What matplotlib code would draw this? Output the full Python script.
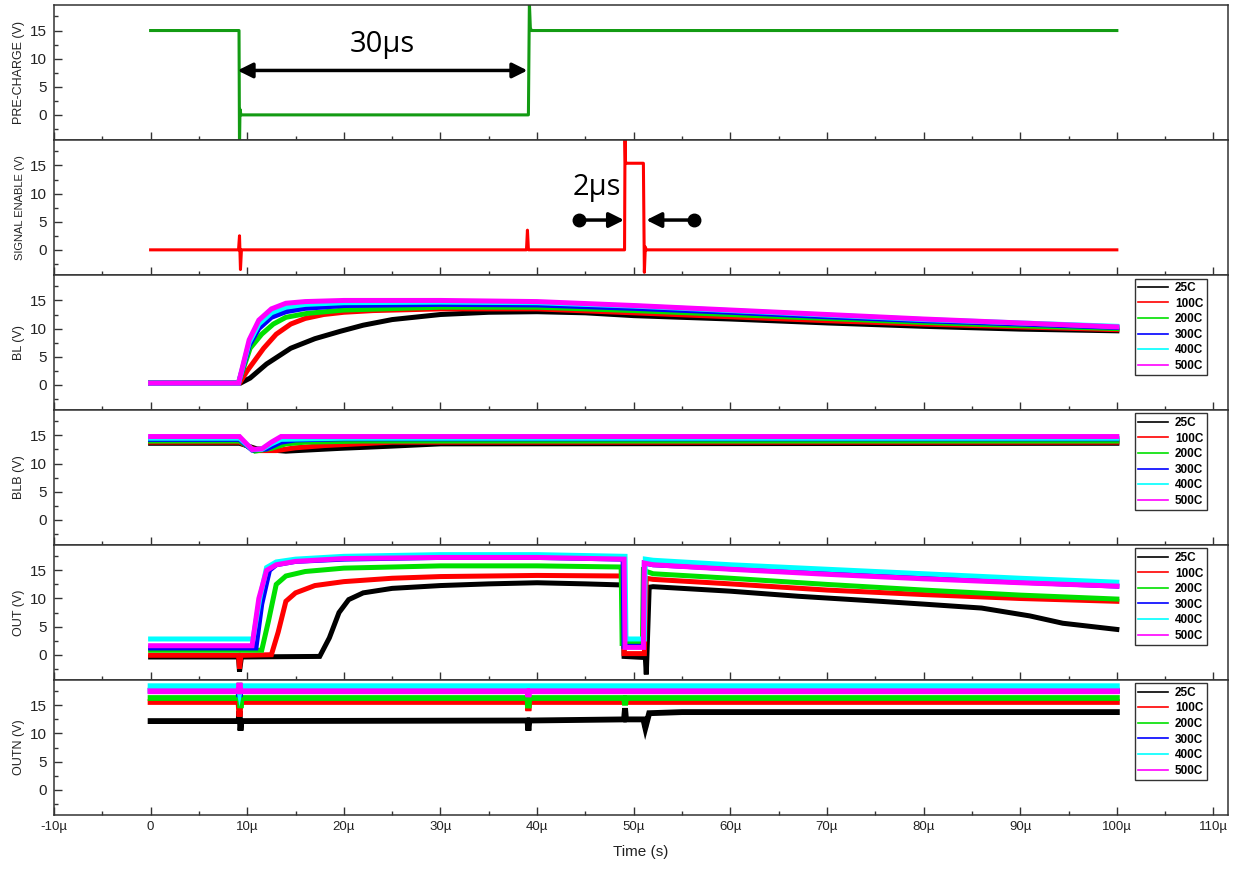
import matplotlib
matplotlib.use("Agg")
import matplotlib.pyplot as plt
from matplotlib.lines import Line2D
from matplotlib.ticker import MultipleLocator, FuncFormatter

plt.rcParams['font.family'] = ['Liberation Sans', 'DejaVu Sans']

# ---- data (time in microseconds, voltage in V) ----
temps = ['25C', '100C', '200C', '300C', '400C', '500C']
temp_colors = ['#000000', '#ff0000', '#00e000', '#0000ff', '#00ffff', '#ff00ff']

pc_t = [0, 9.15, 9.2, 9.25, 9.35, 39.1, 39.2, 39.3, 39.4, 100]
pc_v = [15, 15, -6, 1, 0, 0, 20, 15.5, 15, 15]

se_t = [0, 9.1, 9.2, 9.3, 9.4, 38.9, 39.0, 39.1, 49.05, 49.1, 49.15, 49.3,
        51.0, 51.1, 51.2, 51.3, 100]
se_v = [0, 0, 2.5, -3.5, 0, 0, 3.5, 0, 0, 20, 15.6, 15.4,
        15.4, -4.0, 0.5, 0, 0]

# BL
bl_t = {
    '25C': [0, 9.3, 10.3, 12, 14.5, 17, 19.6, 22, 25, 30, 35, 40, 45, 50, 60, 70, 80, 90, 100],
    '100C': [0, 9.2, 10, 11.7, 13, 14.5, 16, 17.9, 20, 23, 30, 40, 50, 60, 70, 80, 90, 100],
    '200C': [0, 9.1, 10.3, 11.5, 12.7, 14, 16.2, 20, 30, 40, 50, 60, 70, 80, 90, 100],
    '300C': [0, 9.1, 10.2, 11.2, 12.5, 14, 16, 20, 30, 40, 50, 60, 70, 80, 90, 100],
    '400C': [0, 9.1, 10.2, 11.2, 12.5, 14, 16, 20, 30, 40, 50, 60, 70, 80, 90, 100],
    '500C': [0, 9.1, 10.2, 11.2, 12.5, 14, 16, 20, 30, 40, 50, 60, 70, 80, 90, 100],
}
bl_v = {
    '25C': [0.3, 0.3, 1.2, 3.7, 6.5, 8.2, 9.5, 10.6, 11.6, 12.5, 12.9, 13.0, 12.8, 12.3, 11.7, 11.0, 10.4, 9.9, 9.6],
    '100C': [0.3, 0.3, 2.5, 6.5, 9, 10.8, 11.8, 12.5, 12.9, 13.2, 13.5, 13.5, 12.8, 12.1, 11.4, 10.8, 10.3, 9.8],
    '200C': [0.3, 0.3, 6.5, 9, 10.8, 12, 12.7, 13.3, 13.8, 13.8, 13.2, 12.5, 11.8, 11.1, 10.5, 10.0],
    '300C': [0.3, 0.3, 7, 10, 12, 13, 13.6, 14.1, 14.3, 14.2, 13.6, 12.9, 12.1, 11.4, 10.8, 10.2],
    '400C': [0.3, 0.3, 7.5, 10.8, 12.8, 13.8, 14.3, 14.6, 14.7, 14.6, 14.0, 13.2, 12.4, 11.6, 11.0, 10.4],
    '500C': [0.3, 0.3, 8, 11.5, 13.5, 14.5, 14.8, 15, 15, 14.8, 14.1, 13.3, 12.5, 11.7, 11.0, 10.3],
}

# BLB
blb_t = {
    '25C': [0, 9.2, 11, 14, 19.6, 25, 30, 100],
    '100C': [0, 9.2, 11, 13, 15, 18, 25, 100],
    '200C': [0, 9.2, 10.8, 12.5, 14, 16, 22, 100],
    '300C': [0, 9.2, 10.5, 12, 13.5, 15, 20, 100],
    '400C': [0, 9.2, 10.5, 11.5, 12.5, 13.5, 20, 100],
    '500C': [0, 9.2, 10.5, 11.5, 12.5, 13.5, 20, 100],
}
blb_v = {
    '25C': [13.6, 13.6, 12.6, 12.2, 12.7, 13.1, 13.5, 13.6],
    '100C': [13.8, 13.8, 12.3, 12.3, 12.8, 13.2, 13.8, 13.8],
    '200C': [14.0, 14.0, 12.2, 12.7, 13.5, 13.8, 14.0, 14.0],
    '300C': [14.3, 14.3, 12.4, 12.6, 13.8, 14.2, 14.4, 14.4],
    '400C': [14.5, 14.5, 12.5, 12.5, 13.5, 14.3, 14.5, 14.5],
    '500C': [14.8, 14.8, 12.5, 12.6, 13.8, 14.8, 14.8, 14.8],
}

# OUT
out_t = {
    '25C': [0, 9.1, 9.2, 9.4, 17.5, 18.5, 19.5, 20.5, 22, 25, 30, 35, 40, 45, 48.9, 49.0,
            51.2, 51.3, 51.6, 52, 60, 67, 75.5, 80, 86, 91, 94.4, 100],
    '100C': [0, 9.1, 9.2, 9.35, 12.5, 13.2, 14, 15, 17, 20, 25, 30, 40, 48.9, 49.0,
             51.1, 51.3, 52, 60, 70, 80, 90, 100],
    '200C': [0, 11.5, 12.2, 13, 14, 16, 20, 30, 40, 48.7, 48.8, 50.9, 51.0, 52, 60, 70, 80, 90, 100],
    '300C': [0, 10.9, 11.5, 12.3, 13, 15, 20, 30, 40, 48.9, 49.0, 51.0, 51.1, 52, 60, 70, 80, 90, 100],
    '400C': [0, 10.6, 11.3, 12, 13, 15, 20, 30, 40, 49.1, 49.2, 51.1, 51.2, 52, 60, 70, 80, 90, 100],
    '500C': [0, 10.5, 11.2, 12, 13, 15, 20, 30, 40, 49.0, 49.1, 51.0, 51.1, 52, 60, 70, 80, 90, 100],
}
out_v = {
    '25C': [-0.4, -0.4, -3, -0.4, -0.3, 3, 7.5, 9.8, 11, 11.8, 12.3, 12.6, 12.8, 12.6, 12.4, -0.3,
            -0.5, -3.5, 12, 12.1, 11.3, 10.4, 9.5, 9.0, 8.3, 6.9, 5.6, 4.5],
    '100C': [-0.1, -0.1, -2.5, -0.1, 0, 4, 9.5, 11, 12.3, 13, 13.6, 13.9, 14.1, 14, 0.2,
             0.2, 13.6, 13.4, 12.6, 11.5, 10.7, 10.0, 9.5],
    '200C': [0.8, 0.8, 6, 12.5, 14, 14.8, 15.4, 15.8, 15.8, 15.6, 2, 2, 15, 14.4, 13.6, 12.5, 11.5, 10.6, 9.9],
    '300C': [1.2, 1.2, 9, 15, 16, 16.6, 17, 17.3, 17.3, 17, 1.5, 1.5, 16.3, 16, 15.3, 14.5, 13.7, 12.9, 12.2],
    '400C': [2.8, 2.8, 10, 15.5, 16.5, 17, 17.5, 17.8, 17.8, 17.5, 2.8, 2.8, 17, 16.8, 16, 15.2, 14.4, 13.6, 12.9],
    '500C': [1.6, 1.6, 10, 15, 16, 16.6, 17.1, 17.3, 17.3, 17, 1.3, 1.3, 16.3, 16, 15.2, 14.3, 13.5, 12.8, 12.2],
}

# OUTN
outn_t = {
    '25C': [0, 9.1, 9.2, 9.3, 9.4, 39.0, 39.1, 39.2, 49.0, 49.1, 49.2, 51.0, 51.2, 51.6, 55, 100],
    '100C': [0, 9.1, 9.2, 9.3, 39.0, 39.1, 39.2, 100],
    '200C': [0, 9.1, 9.2, 9.3, 9.4, 39.0, 39.1, 39.2, 49.0, 49.1, 49.2, 100],
    '300C': [0, 9.1, 9.2, 9.3, 100],
    '400C': [0, 9.1, 9.2, 9.3, 100],
    '500C': [0, 9.1, 9.2, 9.3, 39.0, 39.1, 39.2, 100],
}
outn_v = {
    '25C': [12.2, 12.2, 14, 10.5, 12.2, 12.3, 10.5, 12.3, 12.5, 14.5, 12.5, 12.5, 11, 13.6, 13.8, 13.8],
    '100C': [15.6, 15.6, 13, 15.6, 15.6, 14, 15.6, 15.6],
    '200C': [16.3, 16.3, 19, 14.5, 16.3, 16.3, 14.5, 16.3, 16.3, 15, 16.3, 16.3],
    '300C': [17.6, 17.6, 16.5, 17.6, 17.6],
    '400C': [18.4, 18.4, 17.5, 18.4, 18.4],
    '500C': [17.5, 17.5, 19, 17.5, 17.5, 16.5, 17.5, 17.5],
}

ylabels = ['PRE-CHARGE (V)', 'SIGNAL ENABLE (V)', 'BL (V)', 'BLB (V)', 'OUT (V)', 'OUTN (V)']

# ---- figure ----
fig, axes = plt.subplots(6, 1, figsize=(12.41, 8.71), dpi=100, sharex=True)
fig.subplots_adjust(left=0.0435, right=0.9895, top=0.994, bottom=0.0643, hspace=0)

spine_col = '#333333'
for i, ax in enumerate(axes):
    ax.set_xlim(-10, 111.5)
    ax.set_ylim(-4.5, 19.5)
    ax.yaxis.set_major_locator(MultipleLocator(5))
    ax.yaxis.set_minor_locator(MultipleLocator(2.5))
    ax.xaxis.set_major_locator(MultipleLocator(10))
    ax.xaxis.set_minor_locator(MultipleLocator(5))
    ax.tick_params(axis='both', which='both', direction='in', colors=spine_col,
                   labelcolor='#222222', top=False, right=False)
    ax.tick_params(axis='both', which='major', length=6, width=1)
    ax.tick_params(axis='both', which='minor', length=3, width=1)
    ax.tick_params(axis='y', pad=5, labelsize=11)
    ax.tick_params(axis='x', pad=4, labelsize=9.5)
    for s in ax.spines.values():
        s.set_color(spine_col)
        s.set_linewidth(1.1)
    fs = 8 if i == 1 else 9
    ax.set_ylabel(ylabels[i], fontsize=fs, color='#222222')
    ax.yaxis.set_label_coords(-0.025, 0.5)

axes[0].plot(pc_t, pc_v, color='#139b13', lw=2.2)
axes[1].plot(se_t, se_v, color='#ff0000', lw=2.2)

for ax, tt, vv, lw in [(axes[2], bl_t, bl_v, 3.6), (axes[3], blb_t, blb_v, 3.6),
                       (axes[4], out_t, out_v, 3.6), (axes[5], outn_t, outn_v, 4.2)]:
    for name, col in zip(temps, temp_colors):
        ax.plot(tt[name], vv[name], color=col, lw=lw, solid_joinstyle='miter')
    handles = [Line2D([0], [0], color=c, lw=1.2) for c in temp_colors]
    leg = ax.legend(handles, temps, loc='upper right', bbox_to_anchor=(0.982, 0.975),
                    prop={'weight': 'bold', 'size': 8.5},
                    frameon=True, fancybox=False, framealpha=1,
                    edgecolor='#333333', labelspacing=0.3, borderpad=0.3,
                    handlelength=2.5, handletextpad=0.6, borderaxespad=0)
    leg.get_frame().set_linewidth(1.0)

axes[-1].xaxis.set_major_formatter(FuncFormatter(lambda v, p: '0' if v == 0 else f'{v:g}\u00b5'))
axes[-1].set_xlabel('Time (s)', fontsize=11, color='#222222', labelpad=9)

# ---- annotations ----
axes[0].annotate('', xy=(9.0, 7.9), xytext=(39.0, 7.9),
                 arrowprops=dict(arrowstyle='<|-|>,head_length=0.9,head_width=0.45',
                                 color='black', lw=2.5, shrinkA=0, shrinkB=0))
axes[0].text(24.0, 12.6, '30\u00b5s', fontsize=21, ha='center', va='center',
             family=['Open Sans', 'DejaVu Sans'])

axes[1].text(46.2, 11.0, '2\u00b5s', fontsize=21, ha='center', va='center',
             family=['Open Sans', 'DejaVu Sans'])
axes[1].annotate('', xy=(49.0, 5.3), xytext=(44.3, 5.3),
                 arrowprops=dict(arrowstyle='-|>,head_length=0.9,head_width=0.45',
                                 color='black', lw=2.5, shrinkA=0, shrinkB=0))
axes[1].annotate('', xy=(51.3, 5.3), xytext=(56.2, 5.3),
                 arrowprops=dict(arrowstyle='-|>,head_length=0.9,head_width=0.45',
                                 color='black', lw=2.5, shrinkA=0, shrinkB=0))
axes[1].plot([44.3, 56.2], [5.3, 5.3], 'o', color='black', ms=9, ls='none')

fig.savefig('out.png', dpi=100)
